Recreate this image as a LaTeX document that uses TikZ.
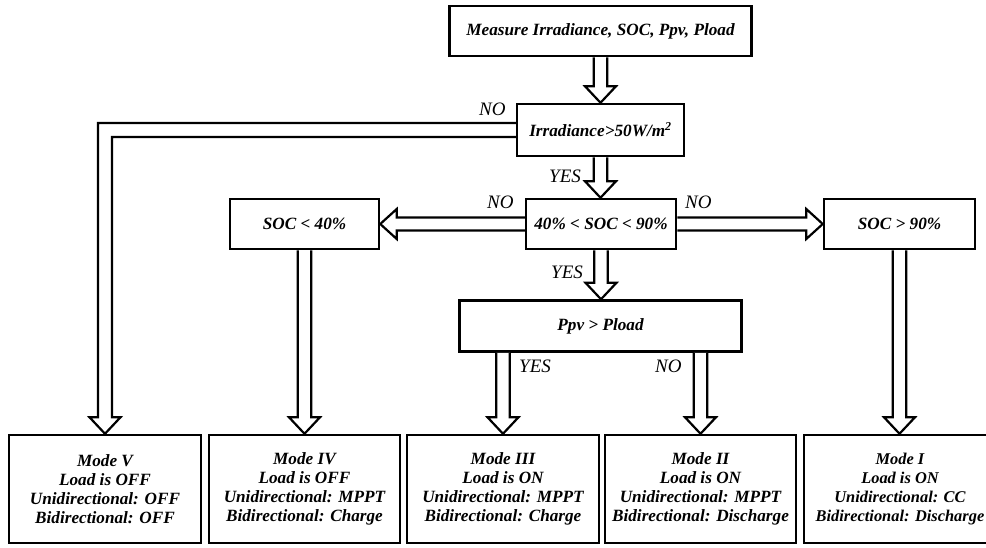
\documentclass[tikz,border=0pt]{standalone}
\usepackage{fontspec}
\setmainfont{Liberation Serif}
\usetikzlibrary{calc}
\tikzset{
  box/.style={draw, line width=2.5pt, rectangle, inner sep=0pt, align=center,
    font=\fontsize{17.2}{19}\selectfont\bfseries\itshape},
  lbl/.style={inner sep=0pt, anchor=base west, font=\fontsize{19}{22}\selectfont\itshape},
  hol/.style={draw, line width=2.2pt, line join=miter, fill=white}
}
\newcommand\hdn[2]{\draw[hol] let \p1=(#1), \p2=(#2) in
  (\x1-6.75pt,\y1) -- (\x1-6.75pt,\y2+16.5pt) -- (\x1-15.5pt,\y2+16.5pt) -- (\x1,\y2)
  -- (\x1+15.5pt,\y2+16.5pt) -- (\x1+6.75pt,\y2+16.5pt) -- (\x1+6.75pt,\y1);}
\newcommand\hlt[2]{\draw[hol] let \p1=(#1), \p2=(#2) in
  (\x1,\y1+6.5pt) -- (\x2+16.5pt,\y1+6.5pt) -- (\x2+16.5pt,\y1+15pt) -- (\x2,\y1)
  -- (\x2+16.5pt,\y1-15pt) -- (\x2+16.5pt,\y1-6.5pt) -- (\x1,\y1-6.5pt);}
\newcommand\hrt[2]{\draw[hol] let \p1=(#1), \p2=(#2) in
  (\x1,\y1+6.5pt) -- (\x2-16.5pt,\y1+6.5pt) -- (\x2-16.5pt,\y1+15pt) -- (\x2,\y1)
  -- (\x2-16.5pt,\y1-15pt) -- (\x2-16.5pt,\y1-6.5pt) -- (\x1,\y1-6.5pt);}
\begin{document}
\begin{tikzpicture}[x=1pt,y=-1pt]
\useasboundingbox (0,0) rectangle (986,547);
\fill[white] (0,0) rectangle (986,547);

\node[box, minimum width=302pt, minimum height=50pt] (top) at (600.5,31) {Measure Irradiance, SOC, Ppv, Pload};
\node[box, minimum width=167pt, minimum height=52pt] (irr) at (600.5,130) {Irradiance>50W/m\textsuperscript{2}};
\node[box, minimum width=150pt, minimum height=50pt] (mid) at (601,224) {40\% < SOC < 90\%};
\node[box, minimum width=149pt, minimum height=50pt] (left) at (304.5,224) {SOC < 40\%};
\node[box, minimum width=151pt, minimum height=50pt] (right) at (899.5,224) {SOC > 90\%};
\node[box, minimum width=282pt, minimum height=51pt] (ppv) at (600.5,326) {Ppv > Pload};
\node[box, minimum width=192pt, minimum height=108pt] (m5) at (105,489) {Mode V\\Load is OFF\\Unidirectional: OFF\\Bidirectional: OFF};
\node[box, minimum width=191pt, minimum height=108pt] (m4) at (304.5,489) {Mode IV\\Load is OFF\\Unidirectional: MPPT\\Bidirectional: Charge};
\node[box, minimum width=192pt, minimum height=108pt] (m3) at (503,489) {Mode III\\Load is ON\\Unidirectional: MPPT\\Bidirectional: Charge};
\node[box, minimum width=191pt, minimum height=108pt] (m2) at (700.5,489) {Mode II\\Load is ON\\Unidirectional: MPPT\\Bidirectional: Discharge};
\node[box, minimum width=192pt, minimum height=108pt, font=\fontsize{16.4}{19}\selectfont\bfseries\itshape] (m1) at (900,489) {Mode I\\Load is ON\\Unidirectional: CC\\Bidirectional: Discharge};

\hdn{top.south}{irr.north}
\hdn{irr.south}{mid.north}
\hdn{mid.south}{ppv.north}
\hlt{mid.west}{left.east}
\hrt{mid.east}{right.west}
\hdn{left.south}{m4.north}
\hdn{right.south}{m1.north}
\hdn{ppv.south -| m3.north}{m3.north}
\hdn{ppv.south -| m2.north}{m2.north}
\draw[hol, fill=none] let \p1=(irr.west), \p2=(m5.north) in
  (\x1,\y1+7pt) -- (\x2-7pt,\y1+7pt) -- (\x2-7pt,\y2+16.5pt) -- (\x2-15.5pt,\y2+16.5pt) -- (\x2,\y2)
  -- (\x2+15.5pt,\y2+16.5pt) -- (\x2+7pt,\y2+16.5pt) -- (\x2+7pt,\y1-7pt) -- (\x1,\y1-7pt);

\node[lbl] (l1) at (479,115) {NO};
\node[lbl] (l2) at (549,182) {YES};
\node[lbl] (l3) at (487,208) {NO};
\node[lbl] (l4) at (685,208) {NO};
\node[lbl] (l5) at (551,278) {YES};
\node[lbl] (l6) at (519,372) {YES};
\node[lbl] (l7) at (655,372) {NO};
\end{tikzpicture}
\end{document}
